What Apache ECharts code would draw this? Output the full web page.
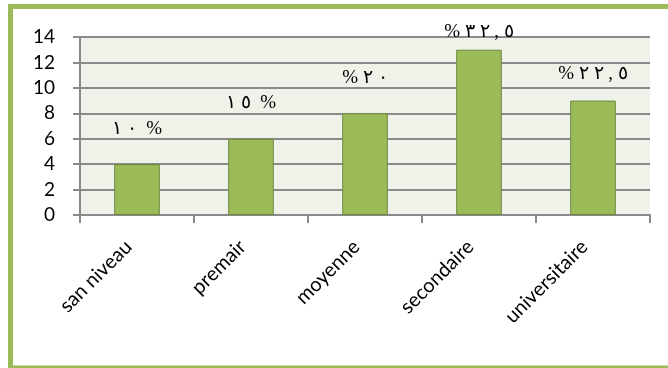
<!DOCTYPE html>
<html>
<head>
<meta charset="utf-8">
<script src="https://cdn.jsdelivr.net/npm/echarts@6/dist/echarts.min.js"></script>
<style>
  html, body { margin: 0; padding: 0; background: #fff; }
  #chart { width: 668px; height: 368px; }
</style>
</head>
<body>
<div id="chart"></div>
<script>
// data
const categories = ['san niveau', 'premair', 'moyenne', 'secondaire', 'universitaire'];
const counts = [4, 6, 8, 13, 9];
const percentLabels = ['١ ٠  %', '١ ٥  %', '% ٢ ٠', '% ٣ ٢ , ٥', '% ٢ ٢ , ٥'];
const yTicks = [0, 2, 4, 6, 8, 10, 12, 14];

// label gap above each bar (style only)
const labelGap = [26, 26, 26, 8, 17];

const chart = echarts.init(document.getElementById('chart'));

const option = {
  animation: false,
  backgroundColor: '#fff',
  graphic: [
    {
      type: 'rect',
      z: 100,
      shape: { x: 10.5, y: 6.5, width: 700, height: 361.5 },
      style: { fill: 'none', stroke: '#9bbb59', lineWidth: 5 }
    }
  ],
  grid: { left: 80, right: 18, top: 37, bottom: 153, containLabel: false,
    show: true, backgroundColor: '#eff2e9', borderWidth: 0 },
  xAxis: {
    type: 'category',
    data: categories,
    axisLine: { lineStyle: { color: '#8a8a8a', width: 2 } },
    axisTick: { show: true, alignWithLabel: false, length: 8, lineStyle: { color: '#8a8a8a', width: 2 } },
    axisLabel: {
      rotate: 45,
      margin: 20,
      padding: [0, 12, 0, 0],
      color: '#000',
      fontSize: 20,
      fontFamily: 'Lato'
    }
  },
  yAxis: {
    type: 'value',
    min: yTicks[0],
    max: yTicks[yTicks.length - 1],
    interval: 2,
    axisLine: { show: true, lineStyle: { color: '#8a8a8a', width: 2 } },
    axisTick: { show: true, length: 7, lineStyle: { color: '#8a8a8a', width: 2 } },
    splitLine: { show: true, lineStyle: { color: '#8a8a8a', width: 2 } },
    axisLabel: {
      margin: 25,
      color: '#000',
      fontSize: 19,
      fontFamily: 'Lato'
    }
  },
  series: [
    {
      type: 'bar',
      barWidth: '40%',
      data: counts.map((v, i) => ({
        value: v,
        label: { distance: labelGap[i] }
      })),
      itemStyle: { color: '#9bbb59', borderColor: '#71893f', borderWidth: 1 },
      label: {
        show: true,
        position: 'top',
        color: '#000',
        fontSize: 19,
        fontFamily: 'Liberation Serif',
        // LRO keeps the spaced Arabic-Indic digits in reading order
        formatter: p => '\u202D' + percentLabels[p.dataIndex] + '\u202C'
      }
    }
  ]
};

chart.setOption(option);
</script>
</body>
</html>
